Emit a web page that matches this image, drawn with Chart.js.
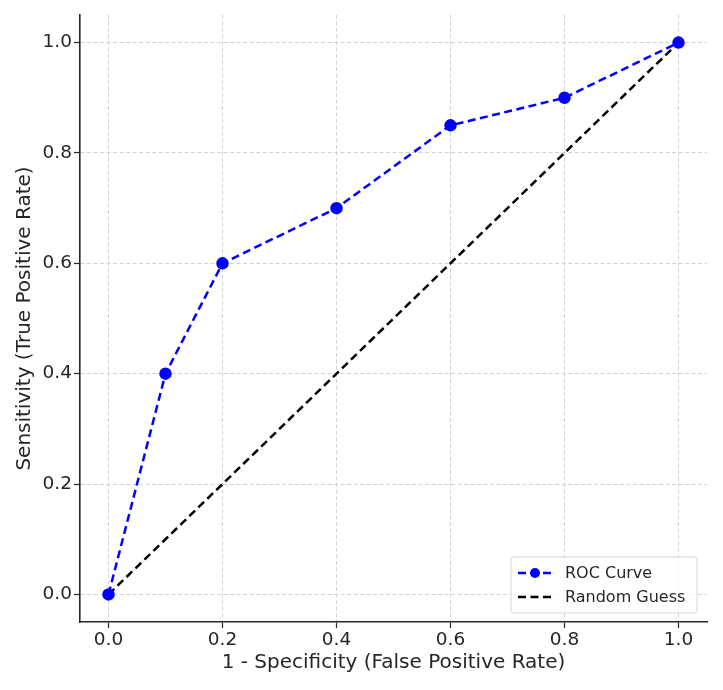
<!DOCTYPE html>
<html><head><meta charset="utf-8">
<script src="https://cdn.jsdelivr.net/npm/chart.js@4"></script>
<style>html,body{margin:0;padding:0;background:#fff}#wrap{width:723px;height:690px}</style>
</head><body><div id="wrap"><canvas id="c" width="723" height="690"></canvas></div>
<script>
const fpr = [0.0, 0.1, 0.2, 0.4, 0.6, 0.8, 1.0];
const tpr = [0.0, 0.4, 0.6, 0.7, 0.85, 0.9, 1.0];
const randomX = [0, 1];
const randomY = [0, 1];
const tickValues = [0.0, 0.2, 0.4, 0.6, 0.8, 1.0];
const seriesNames = ['ROC Curve', 'Random Guess'];
const xTitle = '1 - Specificity (False Positive Rate)';
const yTitle = 'Sensitivity (True Positive Rate)';

const FONT = "'DejaVu Sans', sans-serif";
const textColor = '#262626';
const LINE_DASH = [8, 4.5];

const legendPlugin = {
  id: 'insideLegend',
  afterDraw(chart) {
    const ctx = chart.ctx, ca = chart.chartArea;
    const w = 186, h = 56;
    const x = ca.right - 10 - w, y = ca.bottom - 9 - h;
    ctx.save();
    ctx.fillStyle = 'rgba(255,255,255,0.8)';
    ctx.strokeStyle = '#d6d6d6';
    ctx.lineWidth = 1;
    const r = 3;
    ctx.beginPath();
    ctx.moveTo(x + r, y); ctx.lineTo(x + w - r, y); ctx.quadraticCurveTo(x + w, y, x + w, y + r);
    ctx.lineTo(x + w, y + h - r); ctx.quadraticCurveTo(x + w, y + h, x + w - r, y + h);
    ctx.lineTo(x + r, y + h); ctx.quadraticCurveTo(x, y + h, x, y + h - r);
    ctx.lineTo(x, y + r); ctx.quadraticCurveTo(x, y, x + r, y);
    ctx.closePath(); ctx.fill(); ctx.stroke();
    chart.data.datasets.forEach((ds, i) => {
      const ly = y + 16 + i * 24;
      ctx.strokeStyle = ds.borderColor;
      ctx.lineWidth = 2.5;
      ctx.setLineDash(ds.borderDash);
      ctx.beginPath(); ctx.moveTo(x + 7, ly); ctx.lineTo(x + 41, ly); ctx.stroke();
      ctx.setLineDash([]);
      if (ds.pointRadius > 0) {
        ctx.fillStyle = ds.pointBackgroundColor;
        ctx.beginPath(); ctx.arc(x + 24, ly, 5, 0, Math.PI * 2); ctx.fill();
      }
      ctx.fillStyle = textColor;
      ctx.font = '16px ' + FONT;
      ctx.textBaseline = 'middle';
      ctx.fillText(ds.label, x + 54, ly + 1);
    });
    ctx.restore();
  }
};

const gridOpts = {color: '#d2d2d2', lineWidth: 1, tickBorderDash: [], tickColor: '#262626', tickLength: 6, tickWidth: 1.2};
const borderOpts = {display: true, color: '#262626', width: 1.6, dash: [4, 2.5]};

new Chart(document.getElementById('c'), {
  type: 'scatter',
  data: {
    datasets: [
      {
        label: seriesNames[0],
        data: fpr.map((v, i) => ({x: v, y: tpr[i]})),
        showLine: true,
        borderColor: '#0000ff',
        backgroundColor: '#0000ff',
        pointBackgroundColor: '#0000ff',
        pointBorderColor: '#0000ff',
        pointRadius: 5,
        borderWidth: 2.5,
        borderDash: LINE_DASH,
        order: 1
      },
      {
        label: seriesNames[1],
        data: randomX.map((v, i) => ({x: v, y: randomY[i]})),
        showLine: true,
        borderColor: '#000000',
        backgroundColor: '#000000',
        pointBackgroundColor: '#000000',
        pointRadius: 0,
        borderWidth: 2.5,
        borderDash: LINE_DASH,
        order: 2
      }
    ]
  },
  options: {
    responsive: false,
    animation: false,
    layout: {padding: {left: 0, right: 16, top: 15, bottom: 0}},
    plugins: {legend: {display: false}, tooltip: {enabled: false}},
    scales: {
      x: {
        type: 'linear', min: -0.05, max: 1.05,
        afterBuildTicks: (s) => { s.ticks = tickValues.map(v => ({value: v})); },
        afterFit: (s) => { s.height = 68; },
        ticks: {color: textColor, font: {family: FONT, size: 18.5}, padding: 1,
          callback: (v) => Number(v).toFixed(1)},
        grid: gridOpts,
        border: borderOpts,
        title: {display: true, text: xTitle, color: textColor, font: {family: FONT, size: 20}, padding: {top: 15, bottom: 15}}
      },
      y: {
        type: 'linear', min: -0.05, max: 1.05,
        afterBuildTicks: (s) => { s.ticks = tickValues.map(v => ({value: v})); },
        afterFit: (s) => { s.width = 80; },
        ticks: {color: textColor, font: {family: FONT, size: 18.5}, padding: 2,
          callback: (v) => Number(v).toFixed(1)},
        grid: gridOpts,
        border: borderOpts,
        title: {display: true, text: yTitle, color: textColor, font: {family: FONT, size: 20}, padding: {top: 12.5, bottom: 12.5}}
      }
    }
  },
  plugins: [legendPlugin]
});
</script>
</body></html>
